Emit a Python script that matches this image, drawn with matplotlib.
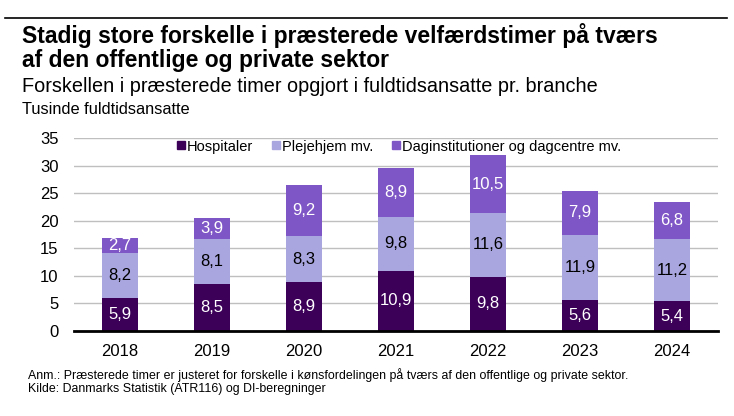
import numpy as np
import matplotlib.pyplot as plt
from matplotlib.lines import Line2D

plt.rcParams['font.family'] = ['Liberation Sans', 'DejaVu Sans']

years = ['2018', '2019', '2020', '2021', '2022', '2023', '2024']
hospitaler = [5.9, 8.5, 8.9, 10.9, 9.8, 5.6, 5.4]
plejehjem = [8.2, 8.1, 8.3, 9.8, 11.6, 11.9, 11.2]
dagins = [2.7, 3.9, 9.2, 8.9, 10.5, 7.9, 6.8]
series_names = ['Hospitaler', 'Plejehjem mv.', 'Daginstitutioner og dagcentre mv.']
colors = ['#3C0059', '#A9A6DF', '#7F56C5']
label_colors = ['white', 'black', 'white']

fig = plt.figure(figsize=(7.34, 4.16), dpi=100)
ax = fig.add_axes([74/734, 85/416, 644/734, 193/416])

x = np.arange(len(years))
bottom = np.zeros(len(years))
for vals, col, lc in zip([hospitaler, plejehjem, dagins], colors, label_colors):
    vals = np.array(vals)
    ax.bar(x, vals, 0.40, bottom=bottom, color=col, zorder=3)
    for xi, b, v in zip(x, bottom, vals):
        ax.text(xi, b + v / 2, f'{v:.1f}'.replace('.', ','), ha='center', va='center',
                color=lc, fontsize=12, zorder=4)
    bottom += vals

ax.set_xlim(-0.5, 6.5)
ax.set_ylim(0, 35)
ax.set_yticks(range(0, 36, 5))
ax.set_xticks(x)
ax.set_xticklabels(years)
ax.yaxis.grid(True, color='#BFBFBF', linewidth=1, zorder=0)
for s in ['top', 'right', 'left']:
    ax.spines[s].set_visible(False)
ax.spines['bottom'].set_linewidth(2)
ax.spines['bottom'].set_zorder(5)
ax.tick_params(axis='both', length=0, labelsize=12)
ax.tick_params(axis='y', pad=11)
ax.tick_params(axis='x', pad=9)

handles = [Line2D([], [], marker='s', linestyle='', color=c, markersize=5.3) for c in colors]
ax.legend(handles, series_names, loc='upper center', bbox_to_anchor=(0.505, 1.03), ncol=3,
          frameon=False, fontsize=10.5, handlelength=0.5, handletextpad=0.15,
          columnspacing=1.3, borderaxespad=0.1)

fig.add_artist(Line2D([5/734, 727/734], [1 - 18/416, 1 - 18/416], color='black', linewidth=1.2))
fig.text(22/734, 1 - 35/416, 'Stadig store forskelle i præsterede velfærdstimer på tværs',
         fontsize=16.5, fontweight='bold', va='center')
fig.text(22/734, 1 - 60/416, 'af den offentlige og private sektor',
         fontsize=16.5, fontweight='bold', va='center')
fig.text(22/734, 1 - 87/416, 'Forskellen i præsterede timer opgjort i fuldtidsansatte pr. branche',
         fontsize=14.3, va='center')
fig.text(22/734, 1 - 109/416, 'Tusinde fuldtidsansatte', fontsize=11.8, va='center')
fig.text(28/734, 1 - 375/416, 'Anm.: Præsterede timer er justeret for forskelle i kønsfordelingen på tværs af den offentlige og private sektor.',
         fontsize=8.9, va='center')
fig.text(28/734, 1 - 389/416, 'Kilde: Danmarks Statistik (ATR116) og DI-beregninger',
         fontsize=8.9, va='center')

fig.savefig('out.png', dpi=100)
